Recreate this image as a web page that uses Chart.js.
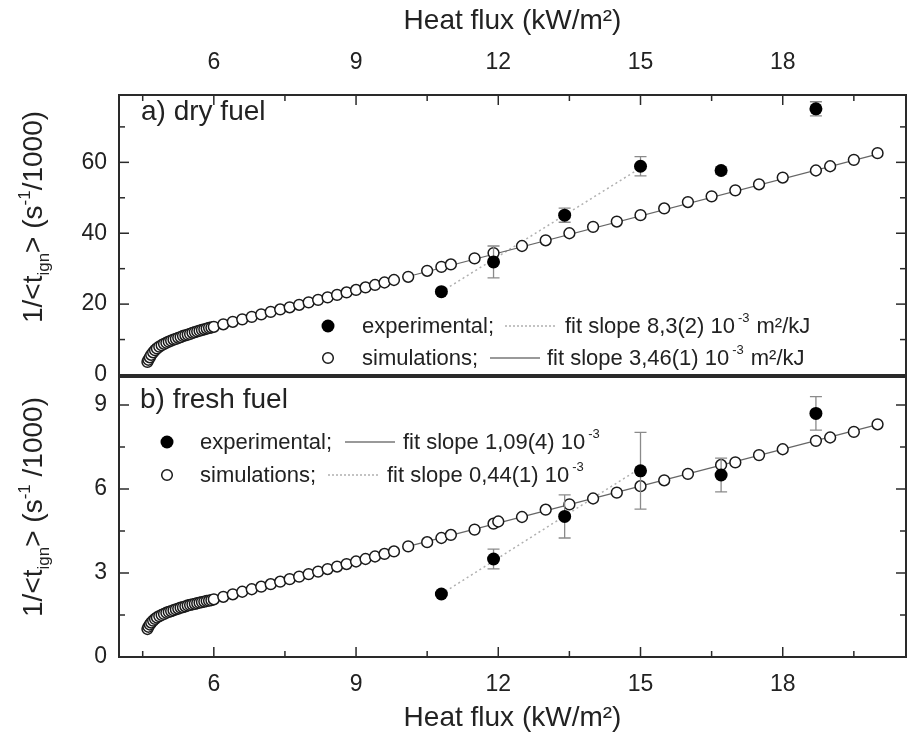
<!DOCTYPE html>
<html><head><meta charset="utf-8">
<script src="https://cdn.jsdelivr.net/npm/chart.js@4.4.0/dist/chart.umd.min.js"></script>
<style>
html,body{margin:0;padding:0;background:#fff;width:907px;height:742px;overflow:hidden;}
#ca{position:absolute;left:0;top:0;}
#cb{position:absolute;left:0;top:372px;}
</style></head><body>
<canvas id="ca" width="907" height="395"></canvas>
<canvas id="cb" width="907" height="370"></canvas>
<script>
// ---------- data ----------
const X_TICKS = [6, 9, 12, 15, 18];
const X_MINOR = [4.5, 7.5, 10.5, 13.5, 16.5, 19.5];
const YA_TICKS = [0, 20, 40, 60];
const YA_MINOR = [10, 30, 50, 70];
const YB_TICKS = [0, 3, 6, 9];
const YB_MINOR = [1.5, 4.5, 7.5];

const TOP_SIM_X = [4.60,4.62,4.65,4.68,4.72,4.76,4.80,4.85,4.90,4.95,5.00,5.05,5.10,5.15,5.20,5.25,5.30,5.35,5.40,5.45,5.50,5.55,5.60,5.65,5.70,5.75,5.80,5.85,5.90,5.95,
  6.0,6.2,6.4,6.6,6.8,7.0,7.2,7.4,7.6,7.8,8.0,8.2,8.4,8.6,8.8,9.0,9.2,9.4,9.6,9.8,10.1,
  10.5,10.8,11.0,11.5,11.9,12.5,13.0,13.5,14.0,14.5,15.0,15.5,16.0,16.5,17.0,17.5,18.0,18.7,19.0,19.5,20.0];
const TOP_SIM_Y = [3.7,4.3,5.0,5.7,6.4,7.0,7.5,8.0,8.4,8.8,9.1,9.4,9.7,10.0,10.2,10.5,10.7,11.0,11.2,11.4,11.6,11.9,12.1,12.3,12.5,12.7,12.9,13.1,13.3,13.4,
  13.6,14.3,15.0,15.7,16.4,17.1,17.8,18.5,19.1,19.8,20.5,21.2,21.9,22.6,23.3,24.0,24.7,25.4,26.1,26.8,27.7,
  29.4,30.5,31.2,32.9,34.4,36.4,38.0,40.0,41.8,43.3,45.1,47.0,48.8,50.4,52.1,53.8,55.7,57.7,58.9,60.7,62.6];
const TOP_EXP_X = [10.8, 11.9, 13.4, 15.0, 16.7, 18.7];
const TOP_EXP_Y = [23.5, 31.9, 45.1, 58.9, 57.7, 75.1];
const TOP_EXP_ERR = [0.6, 4.5, 2.0, 2.7, 1.0, 2.0];
const TOP_FIT_EXP_X = [10.8, 15.0];
const TOP_FIT_EXP_Y = [23.5, 58.4];
const TOP_FIT_SIM_X = [10.1, 20.0];
const TOP_FIT_SIM_Y = [27.8, 62.3];

const BOT_SIM_X = [4.60,4.62,4.65,4.68,4.72,4.76,4.80,4.85,4.90,4.95,5.00,5.05,5.10,5.15,5.20,5.25,5.30,5.35,5.40,5.45,5.50,5.55,5.60,5.65,5.70,5.75,5.80,5.85,5.90,5.95,
  6.0,6.2,6.4,6.6,6.8,7.0,7.2,7.4,7.6,7.8,8.0,8.2,8.4,8.6,8.8,9.0,9.2,9.4,9.6,9.8,10.1,
  10.5,10.8,11.0,11.5,11.9,12.0,12.5,13.0,13.5,14.0,14.5,15.0,15.5,16.0,16.7,17.0,17.5,18.0,18.7,19.0,19.5,20.0];
const BOT_SIM_Y = [1.00,1.08,1.16,1.23,1.30,1.36,1.41,1.46,1.50,1.54,1.58,1.61,1.64,1.67,1.70,1.73,1.76,1.78,1.81,1.84,1.86,1.88,1.90,1.92,1.94,1.96,1.98,2.00,2.01,2.03,
  2.06,2.15,2.24,2.33,2.42,2.51,2.60,2.69,2.78,2.87,2.96,3.05,3.14,3.23,3.32,3.41,3.50,3.59,3.68,3.77,3.95,
  4.10,4.25,4.36,4.55,4.76,4.84,5.00,5.26,5.45,5.66,5.87,6.10,6.31,6.54,6.86,6.95,7.21,7.42,7.72,7.84,8.04,8.31];
const BOT_EXP_X = [10.8, 11.9, 13.4, 15.0, 16.7, 18.7];
const BOT_EXP_Y = [2.25, 3.5, 5.02, 6.65, 6.5, 8.7];
const BOT_EXP_ERR = [0.05, 0.35, 0.77, 1.37, 0.6, 0.6];
const BOT_FIT_EXP_X = [10.8, 15.0];
const BOT_FIT_EXP_Y = [2.25, 6.75];
const BOT_FIT_SIM_X = [10.1, 20.0];
const BOT_FIT_SIM_Y = [3.95, 8.3];

const X_TITLE = 'Heat flux (kW/m\u00B2)';
const LABEL_A = 'a) dry fuel';
const LABEL_B = 'b) fresh fuel';
const LEG_EXP = 'experimental;';
const LEG_SIM = 'simulations;';
const FIT_A_EXP = 'fit slope 8,3(2) 10';
const FIT_A_SIM = 'fit slope 3,46(1) 10';
const FIT_B_EXP = 'fit slope 1,09(4) 10';
const FIT_B_SIM = 'fit slope 0,44(1) 10';
const FIT_UNIT_A = 'm\u00B2/kJ';

// ---------- helpers ----------
const FONT = '"Liberation Sans", Arial, sans-serif';
const TXT = '#222';
const pts = (xs, ys) => xs.map((x, i) => ({x: x, y: ys[i]}));

function drawFrame(chart, yMajor, yMinor, topTicks, bottomTicks) {
  const {ctx, chartArea: a, scales} = chart;
  const xs = scales.x, ys = scales.y;
  ctx.save();
  ctx.strokeStyle = '#2a2a2a';
  ctx.lineWidth = 1.5;
  const seg = (x1, y1, x2, y2) => { ctx.beginPath(); ctx.moveTo(x1, y1); ctx.lineTo(x2, y2); ctx.stroke(); };
  const xt = (vals, len) => vals.forEach(v => {
    const p = xs.getPixelForValue(v);
    if (topTicks) seg(p, a.top, p, a.top + len);
    if (bottomTicks) seg(p, a.bottom, p, a.bottom - len);
  });
  xt(X_TICKS, 10); xt(X_MINOR, 6);
  const yt = (vals, len) => vals.forEach(v => {
    const p = ys.getPixelForValue(v);
    seg(a.left, p, a.left + len, p);
    seg(a.right, p, a.right - len, p);
  });
  yt(yMajor, 10); yt(yMinor, 6);
  ctx.lineWidth = 2;
  ctx.strokeRect(a.left, a.top, a.right - a.left, a.bottom - a.top);
  ctx.restore();
}

function drawErrors(chart, xsv, ysv, errs) {
  const {ctx, scales} = chart;
  ctx.save();
  ctx.strokeStyle = '#8a8a8a';
  ctx.lineWidth = 1.3;
  xsv.forEach((x, i) => {
    const px = scales.x.getPixelForValue(x);
    const p1 = scales.y.getPixelForValue(ysv[i] - errs[i]);
    const p2 = scales.y.getPixelForValue(ysv[i] + errs[i]);
    ctx.beginPath();
    ctx.moveTo(px, p1); ctx.lineTo(px, p2);
    ctx.moveTo(px - 6, p1); ctx.lineTo(px + 6, p1);
    ctx.moveTo(px - 6, p2); ctx.lineTo(px + 6, p2);
    ctx.stroke();
  });
  ctx.restore();
}

function drawYTitle(ctx, cx, cy, parts) {
  ctx.save();
  ctx.translate(cx, cy);
  ctx.rotate(-Math.PI / 2);
  ctx.fillStyle = TXT;
  ctx.textAlign = 'left';
  ctx.textBaseline = 'alphabetic';
  let total = 0;
  parts.forEach(p => { ctx.font = p.s + 'px ' + FONT; p.w = ctx.measureText(p.t).width; total += p.w; });
  let x = -total / 2;
  parts.forEach(p => { ctx.font = p.s + 'px ' + FONT; ctx.fillText(p.t, x, 10 + p.dy); x += p.w; });
  ctx.restore();
}

function legendRow(ctx, y, mx, filled, tx, label, lx1, lx2, dotted, fx, fitText, unit) {
  ctx.save();
  ctx.beginPath();
  if (filled) { ctx.arc(mx, y, 6.5, 0, 2 * Math.PI); ctx.fillStyle = '#000'; ctx.fill(); }
  else { ctx.arc(mx, y, 5.3, 0, 2 * Math.PI); ctx.fillStyle = '#fff'; ctx.fill(); ctx.lineWidth = 1.5; ctx.strokeStyle = '#1a1a1a'; ctx.stroke(); }
  ctx.fillStyle = TXT;
  ctx.textAlign = 'left';
  ctx.textBaseline = 'middle';
  ctx.font = '22px ' + FONT;
  ctx.fillText(label, tx, y + 1);
  ctx.beginPath();
  if (dotted) { ctx.setLineDash([2, 2]); ctx.strokeStyle = '#b0b0b0'; ctx.lineWidth = 1.5; }
  else { ctx.setLineDash([]); ctx.strokeStyle = '#777'; ctx.lineWidth = 1.3; }
  ctx.moveTo(lx1, y); ctx.lineTo(lx2, y); ctx.stroke();
  ctx.setLineDash([]);
  ctx.font = '22px ' + FONT;
  ctx.fillText(fitText, fx, y + 1);
  const w = ctx.measureText(fitText).width;
  ctx.font = '13px ' + FONT;
  ctx.fillText('-3', fx + w + 3, y - 8);
  const w2 = ctx.measureText('-3').width;
  if (unit) { ctx.font = '22px ' + FONT; ctx.fillText(unit, fx + w + 3 + w2 + 7, y + 1); }
  ctx.restore();
}

function datasets(simX, simY, expX, expY, fEx, fEy, fSx, fSy) {
  return [
    {type: 'line', data: pts(fEx, fEy), borderColor: '#b0b0b0', borderDash: [2, 3], borderWidth: 1.5, pointRadius: 0, order: 4},
    {type: 'line', data: pts(fSx, fSy), borderColor: '#666', borderWidth: 1.2, pointRadius: 0, order: 3},
    {type: 'scatter', data: pts(simX, simY), pointRadius: 5.4, borderWidth: 1.5, borderColor: '#1a1a1a', backgroundColor: '#fff', order: 2},
    {type: 'scatter', data: pts(expX, expY), pointRadius: 6.5, borderWidth: 0, backgroundColor: '#000', borderColor: '#000', order: 1}
  ];
}

const tickFont = {family: FONT, size: 23};
const XMIN = 4.0, XMAX = 20.6;
const noPadV = (w) => s => { s.width = w; s.paddingTop = 0; s.paddingBottom = 0; };
const noPadH = (h) => s => { s.height = h; s.paddingLeft = 0; s.paddingRight = 0; };

// ---------- top panel ----------
new Chart(document.getElementById('ca'), {
  type: 'scatter',
  data: {datasets: datasets(TOP_SIM_X, TOP_SIM_Y, TOP_EXP_X, TOP_EXP_Y, TOP_FIT_EXP_X, TOP_FIT_EXP_Y, TOP_FIT_SIM_X, TOP_FIT_SIM_Y)},
  options: {
    responsive: false, animation: false, events: [],
    layout: {autoPadding: false, padding: {left: 0, right: 1, top: 0, bottom: 20}},
    plugins: {legend: {display: false}, tooltip: {enabled: false}},
    scales: {
      x: {type: 'linear', min: XMIN, max: XMAX, display: false, afterFit: noPadH(0)},
      x2: {type: 'linear', position: 'top', min: XMIN, max: XMAX,
        afterBuildTicks: s => { s.ticks = X_TICKS.map(v => ({value: v})); },
        afterFit: noPadH(95),
        grid: {display: false, drawTicks: false}, border: {display: false},
        ticks: {font: tickFont, color: TXT, padding: 19, maxRotation: 0},
        title: {display: true, text: X_TITLE, font: {family: FONT, size: 28}, color: TXT, padding: {top: 4, bottom: 0}}},
      y: {type: 'linear', min: 0, max: 79,
        afterBuildTicks: s => { s.ticks = YA_TICKS.map(v => ({value: v})); },
        afterFit: noPadV(119),
        grid: {display: false, drawTicks: false}, border: {display: false},
        ticks: {font: tickFont, color: TXT, padding: 12}}
    }
  },
  plugins: [{
    id: 'deco',
    afterDatasetDraw(chart, args) { if (args.index === 2) drawErrors(chart, TOP_EXP_X, TOP_EXP_Y, TOP_EXP_ERR); },
    afterDraw(chart) {
      const ctx = chart.ctx;
      drawFrame(chart, YA_TICKS, YA_MINOR, true, false);
      ctx.save();
      ctx.fillStyle = TXT; ctx.font = '28px ' + FONT; ctx.textBaseline = 'middle'; ctx.textAlign = 'left';
      ctx.fillText(LABEL_A, 141, 112);
      ctx.restore();
      legendRow(ctx, 326, 328, true, 362, LEG_EXP, 505, 557, true, 565, FIT_A_EXP, FIT_UNIT_A);
      legendRow(ctx, 358, 328, false, 362, LEG_SIM, 490, 540, false, 547, FIT_A_SIM, FIT_UNIT_A);
      drawYTitle(ctx, 32, 217, [
        {t: '1/<t', s: 28, dy: 0}, {t: 'ign', s: 17, dy: 7}, {t: '> (s', s: 28, dy: 0},
        {t: '-1', s: 17, dy: -12}, {t: '/1000)', s: 28, dy: 0}]);
    }
  }]
});

// ---------- bottom panel ----------
new Chart(document.getElementById('cb'), {
  type: 'scatter',
  data: {datasets: datasets(BOT_SIM_X, BOT_SIM_Y, BOT_EXP_X, BOT_EXP_Y, BOT_FIT_EXP_X, BOT_FIT_EXP_Y, BOT_FIT_SIM_X, BOT_FIT_SIM_Y)},
  options: {
    responsive: false, animation: false, events: [],
    layout: {autoPadding: false, padding: {left: 0, right: 1, top: 5, bottom: 0}},
    plugins: {legend: {display: false}, tooltip: {enabled: false}},
    scales: {
      x: {type: 'linear', position: 'bottom', min: XMIN, max: XMAX,
        afterBuildTicks: s => { s.ticks = X_TICKS.map(v => ({value: v})); },
        afterFit: noPadH(85),
        grid: {display: false, drawTicks: false}, border: {display: false},
        ticks: {font: tickFont, color: TXT, padding: 14, maxRotation: 0},
        title: {display: true, text: X_TITLE, font: {family: FONT, size: 28}, color: TXT, padding: {top: 0, bottom: 7}}},
      y: {type: 'linear', min: 0, max: 10,
        afterBuildTicks: s => { s.ticks = YB_TICKS.map(v => ({value: v})); },
        afterFit: noPadV(119),
        grid: {display: false, drawTicks: false}, border: {display: false},
        ticks: {font: tickFont, color: TXT, padding: 12}}
    }
  },
  plugins: [{
    id: 'deco',
    afterDatasetDraw(chart, args) { if (args.index === 2) drawErrors(chart, BOT_EXP_X, BOT_EXP_Y, BOT_EXP_ERR); },
    afterDraw(chart) {
      const ctx = chart.ctx;
      drawFrame(chart, YB_TICKS, YB_MINOR, false, true);
      ctx.save();
      ctx.fillStyle = TXT; ctx.font = '28px ' + FONT; ctx.textBaseline = 'middle'; ctx.textAlign = 'left';
      ctx.fillText(LABEL_B, 140, 28);
      ctx.restore();
      legendRow(ctx, 70, 167, true, 200, LEG_EXP, 345, 395, false, 403, FIT_B_EXP, '');
      legendRow(ctx, 103, 167, false, 200, LEG_SIM, 328, 378, true, 387, FIT_B_SIM, '');
      drawYTitle(ctx, 32, 135, [
        {t: '1/<t', s: 28, dy: 0}, {t: 'ign', s: 17, dy: 7}, {t: '> (s', s: 28, dy: 0},
        {t: '-1', s: 17, dy: -12}, {t: ' /1000)', s: 28, dy: 0}]);
    }
  }]
});
</script></body></html>
